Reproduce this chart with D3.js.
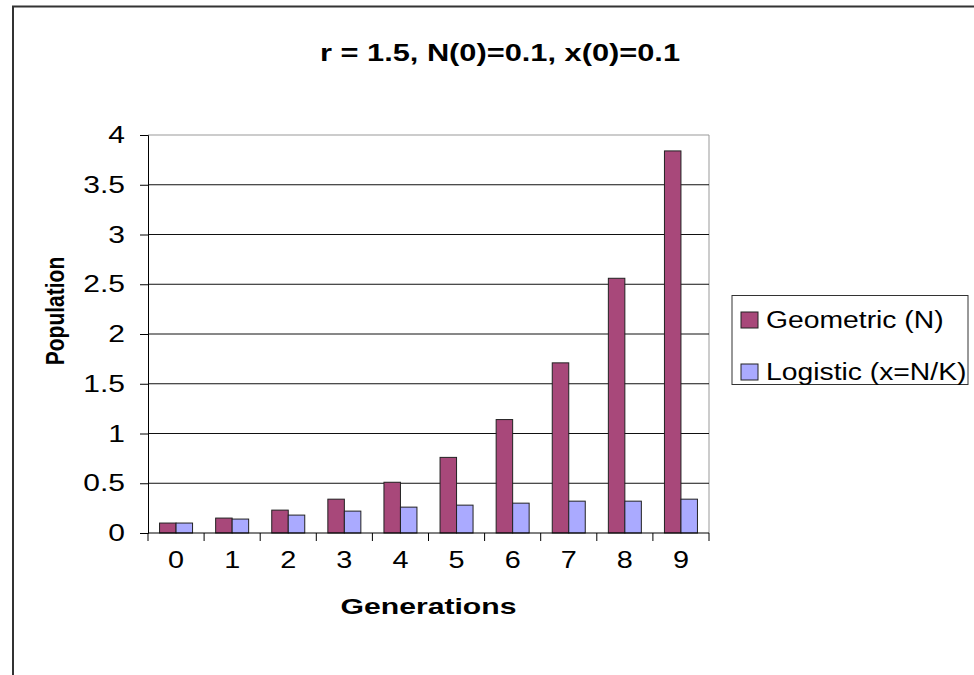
<!DOCTYPE html>
<html>
<head>
<meta charset="utf-8">
<script src="https://cdn.jsdelivr.net/npm/d3@7"></script>
<style>
  html, body { margin: 0; padding: 0; background: #fff; }
  svg { display: block; font-family: "Liberation Sans", Arial, sans-serif; }
</style>
</head>
<body>
<svg id="chart" width="974" height="675"></svg>
<script>
// Generations on the x axis
const generations = ["0", "1", "2", "3", "4", "5", "6", "7", "8", "9"];
// Geometric growth N(t)
const geometricValues = [0.1, 0.15, 0.23, 0.34, 0.51, 0.76, 1.14, 1.71, 2.56, 3.84];
// Logistic growth x(t) = N/K
const logisticValues = [0.1, 0.14, 0.18, 0.22, 0.26, 0.28, 0.30, 0.32, 0.32, 0.34];
const seriesNames = ["Geometric (N)", "Logistic (x=N/K)"];
const yTickValues = [0, 0.5, 1, 1.5, 2, 2.5, 3, 3.5, 4];
const titleText = "r = 1.5, N(0)=0.1, x(0)=0.1";
const xTitle = "Generations";
const yTitle = "Population";

const colors = { "Geometric (N)": "#a8487a", "Logistic (x=N/K)": "#aaaaff" };
const FONT = "Liberation Sans, Arial, sans-serif";

const svg = d3.select("#chart");

// widen a text element horizontally by a factor
function widen(sel, factor) {
  sel.each(function () {
    const w = this.getComputedTextLength();
    d3.select(this).attr("textLength", w * factor).attr("lengthAdjust", "spacingAndGlyphs");
  });
}

// chart area frame (runs off the right and bottom edges)
svg.append("rect")
  .attr("x", 13).attr("y", 6.5)
  .attr("width", 1000).attr("height", 720)
  .attr("fill", "#fff").attr("stroke", "#333").attr("stroke-width", 2);

const plot = { left: 148, right: 709, top: 135, bottom: 533 };

const y = d3.scaleLinear().domain([0, 4]).range([plot.bottom, plot.top]);
const x = d3.scaleBand().domain(generations).range([plot.left, plot.right]).padding(0);
const xs = d3.scaleBand().domain(seriesNames).range([0, x.bandwidth()])
  .paddingInner(0).paddingOuter(0.7);

// plot area border: top and right in grey
svg.append("path")
  .attr("d", `M${plot.left},${plot.top}H${plot.right}V${plot.bottom}`)
  .attr("fill", "none").attr("stroke", "#999").attr("stroke-width", 1);

// horizontal gridlines
svg.append("g").selectAll("line")
  .data(yTickValues.filter(v => v > 0 && v < 4))
  .join("line")
  .attr("x1", plot.left).attr("x2", plot.right)
  .attr("y1", d => y(d)).attr("y2", d => y(d))
  .attr("stroke", "#111").attr("stroke-width", 1);

// bars
const rows = generations.map((g, i) => ({
  gen: g,
  vals: [
    { name: seriesNames[0], v: geometricValues[i] },
    { name: seriesNames[1], v: logisticValues[i] }
  ]
}));

svg.append("g").selectAll("g")
  .data(rows)
  .join("g")
  .attr("transform", d => `translate(${x(d.gen)},0)`)
  .selectAll("rect")
  .data(d => d.vals)
  .join("rect")
  .attr("x", d => xs(d.name))
  .attr("width", xs.bandwidth())
  .attr("y", d => y(d.v))
  .attr("height", d => y(0) - y(d.v))
  .attr("fill", d => colors[d.name])
  .attr("stroke", "#222").attr("stroke-width", 1);

// y axis
const yAxis = d3.axisLeft(y).tickValues(yTickValues).tickSize(8).tickPadding(15)
  .tickFormat(d => d3.format("")(d));
const gy = svg.append("g").attr("transform", `translate(${plot.left},0)`).call(yAxis);
gy.select(".domain").attr("stroke", "#000");
gy.selectAll(".tick line").attr("stroke", "#000");
gy.selectAll(".tick text").attr("font-size", 24).attr("fill", "#000")
  .attr("font-family", FONT).call(widen, 1.25);

// x axis, ticks at category boundaries
const gx = svg.append("g").attr("transform", `translate(0,${plot.bottom})`)
  .call(d3.axisBottom(x).tickSize(0).tickPadding(18));
gx.select(".domain").remove();
gx.append("line").attr("x1", plot.left).attr("x2", plot.right)
  .attr("stroke", "#000");
gx.selectAll(".tick text").attr("font-size", 24).attr("fill", "#000")
  .attr("font-family", FONT).call(widen, 1.2);
gx.selectAll("line.bound")
  .data(generations.map(g => x(g)).concat([plot.right]))
  .join("line").attr("class", "bound")
  .attr("x1", d => d).attr("x2", d => d)
  .attr("y1", 0).attr("y2", 8)
  .attr("stroke", "#000");

// titles
svg.append("text")
  .attr("x", 500).attr("y", 61)
  .attr("text-anchor", "middle")
  .attr("font-size", 24).attr("font-weight", "bold")
  .attr("textLength", 360).attr("lengthAdjust", "spacingAndGlyphs")
  .text(titleText);

svg.append("text")
  .attr("x", (plot.left + plot.right) / 2).attr("y", 614)
  .attr("text-anchor", "middle")
  .attr("font-size", 22).attr("font-weight", "bold")
  .attr("textLength", 176).attr("lengthAdjust", "spacingAndGlyphs")
  .text(xTitle);

svg.append("g")
  .attr("transform", "translate(64,311) scale(1.2,1)")
  .append("text")
  .attr("transform", "rotate(-90)")
  .attr("text-anchor", "middle")
  .attr("font-size", 21).attr("font-weight", "bold")
  .text(yTitle);

// legend
const legend = svg.append("g");
legend.append("rect")
  .attr("x", 732).attr("y", 295.5).attr("width", 236).attr("height", 89)
  .attr("fill", "#fff").attr("stroke", "#333").attr("stroke-width", 1);
const items = legend.selectAll("g.item")
  .data(seriesNames)
  .join("g").attr("class", "item")
  .attr("transform", (d, i) => `translate(741,${320 + i * 52})`);
items.append("rect")
  .attr("x", 0).attr("y", -8).attr("width", 17).attr("height", 16)
  .attr("fill", d => colors[d]).attr("stroke", "#222").attr("stroke-width", 1);
items.append("text")
  .attr("x", 25).attr("y", 0).attr("dy", "0.36em")
  .attr("font-size", 23)
  .call(t => t.text(d => d))
  .call(widen, 1.23);
</script>
</body>
</html>
